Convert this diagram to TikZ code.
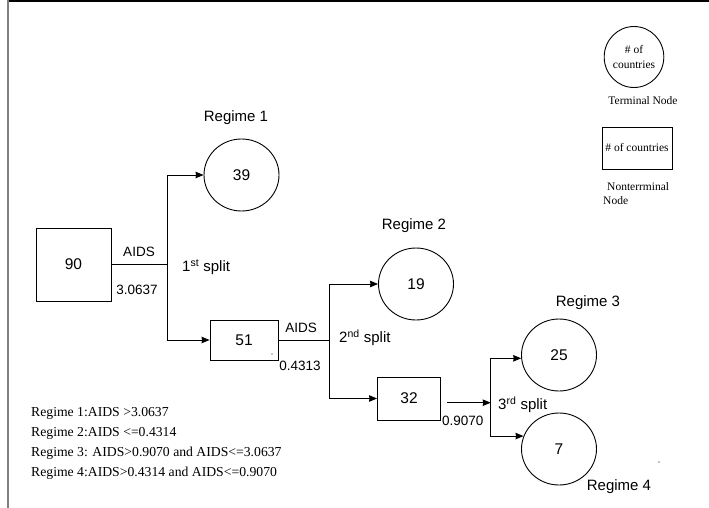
\documentclass[tikz,border=0pt]{standalone}
\usepackage{fontspec}
\setmainfont{Liberation Serif}
\newfontfamily\arial{Liberation Sans}
\usetikzlibrary{arrows.meta,shapes.geometric}

\begin{document}
\begin{tikzpicture}[
  x=1pt, y=-1pt,
  nonterm/.style={draw, line width=0.9pt, inner sep=0pt, font=\arial\fontsize{15.5}{17}\selectfont},
  term/.style={draw, ellipse, line width=0.9pt, inner sep=0pt, minimum width=75pt,
               minimum height=72pt, font=\arial\fontsize{15.5}{17}\selectfont},
  regime/.style={font=\arial\fontsize{15}{17}\selectfont, inner sep=0pt},
  lbl/.style={font=\arial\fontsize{13.5}{15}\selectfont, inner sep=0pt},
  splitlbl/.style={font=\arial\fontsize{15}{17}\selectfont, inner sep=0pt, anchor=west},
  note/.style={font=\fontsize{13.7}{16}\selectfont, inner sep=0pt, anchor=west},
  legend/.style={font=\fontsize{11.5}{15}\selectfont, inner sep=0pt},
  arrow/.style={-{Stealth[length=8pt,width=6.5pt,inset=0.5pt]}, line width=0.9pt},
  link/.style={line width=0.9pt}
]
\useasboundingbox (0,0) rectangle (709,508);

% frame
\draw[line width=1.5pt] (7,1) -- (709,1);
\draw[line width=2pt, gray] (8,0) -- (8,508);

% nonterminal nodes
\node[nonterm, minimum width=75pt, minimum height=73pt] (n90) at (73.5,264.5) {90};
\node[nonterm, minimum width=68pt, minimum height=40pt] (n51) at (244,340) {51};
\node[nonterm, minimum width=63pt, minimum height=43pt] (n32) at (409,398.5) {32};

% terminal nodes
\node[term] (r1) at (241.5,175) {39};
\node[term] (r2) at (416,284) {19};
\node[term] (r3) at (559,355) {25};
\node[term] (r4) at (559,449) {7};

% regime titles
\node[regime] (t1) at (236,118) {Regime 1};
\node[regime] (t2) at (414,226) {Regime 2};
\node[regime] (t3) at (588,303) {Regime 3};
\node[regime] (t4) at (619,487) {Regime 4};

% split points
\coordinate (s1) at (167,264.5);
\coordinate (s2) at (329,340);
\coordinate (s3) at (490.7,402.7);

% 1st split
\draw[link] (n90.east) -- (s1);
\draw[arrow] (s1) |- (r1.west);
\draw[arrow] (s1) |- (n51.west);
\node[lbl] (a1) at (139,252) {AIDS};
\node[lbl] (v1) at (137,290) {3.0637};
\node[splitlbl] (p1) at (182,267) {1\textsuperscript{st} split};

% 2nd split
\draw[link] (n51.east) -- (s2);
\draw[arrow] (s2) |- (r2.west);
\draw[arrow] (s2) |- (n32.west);
\node[lbl] (a2) at (301,328) {AIDS};
\node[lbl] (v2) at (300,366) {0.4313};
\node[splitlbl] (p2) at (339,338) {2\textsuperscript{nd} split};

% 3rd split
\draw[arrow, shorten <=6pt] (n32.east |- s3) -- (s3);
\draw[arrow] (s3) |- (r3.185);
\draw[arrow] (s3) |- (r4.160);
\node[lbl, anchor=west] (v3) at (442,421) {0.9070};
\node[splitlbl] (p3) at (498,405) {3\textsuperscript{rd} split};

% stray marks
\fill (272,354) circle (0.7);
\fill (659,462) circle (0.7);

% legend
\node[draw, ellipse, line width=0.9pt, minimum width=50pt, minimum height=61pt,
      inner sep=0pt, legend, align=center] (lt) at (634,57) {\# of\\countries};
\node[legend] (ltx) at (643,101) {Terminal Node};
\node[draw, line width=0.9pt, minimum width=70pt, minimum height=42pt,
      inner sep=0pt, legend] (ln) at (637,148) {\# of countries};
\node[legend, anchor=west] (lnx1) at (607,187) {Nonterrminal};
\node[legend, anchor=west] (lnx2) at (603,201) {Node};

% regime rules
\node[note] (c1) at (31,413) {Regime 1:AIDS >3.0637};
\node[note] (c2) at (31,433) {Regime 2:AIDS <=0.4314};
\node[note] (c3) at (31,453) {Regime 3: AIDS>0.9070 and AIDS<=3.0637};
\node[note] (c4) at (31,473) {Regime 4:AIDS>0.4314 and AIDS<=0.9070};

\end{tikzpicture}
\end{document}
